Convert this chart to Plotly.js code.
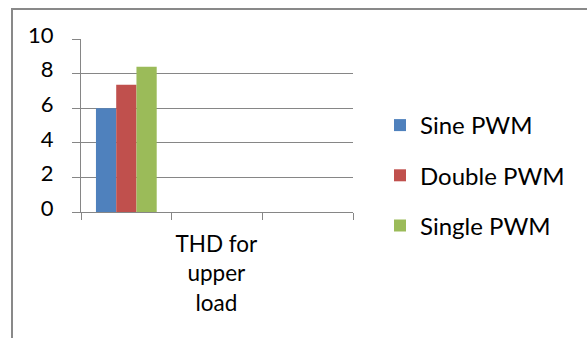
<!DOCTYPE html>
<html>
<head>
<meta charset="utf-8">
<script src="https://cdn.plot.ly/plotly-3.0.1.min.js"></script>
<style>
html,body{margin:0;padding:0;background:#fff;}
#chart{width:587px;height:338px;}
</style>
</head>
<body>
<div id="chart"></div>
<script>
var categories = ["THD for<br>upper<br>load", " ", "  "];
var seriesNames = ["Sine PWM", "Double PWM", "Single PWM"];
var sineValues = [6.0];
var doubleValues = [7.35];
var singleValues = [8.4];
var seriesColors = ["#4F81BD", "#C0504D", "#9BBB59"];
var yTickValues = [0, 2, 4, 6, 8, 10];

var seriesValues = [sineValues, doubleValues, singleValues];
var traces = seriesNames.map(function (name, i) {
  return {
    type: "bar",
    name: name,
    x: categories.slice(0, seriesValues[i].length),
    y: seriesValues[i],
    marker: {color: seriesColors[i]},
    legendgroup: "g" + i,
    hoverinfo: "none"
  };
});

var W = 587, H = 338;
var L = 81, R = 353, T = 39, B = 212;
function px(x) { return (x - L) / (R - L); }
function py(y) { return (B - y) / (B - T); }

var grey = "#868686";
var font = "Lato, 'Liberation Sans', sans-serif";

var layout = {
  width: W, height: H,
  margin: {l: L, r: W - R, t: T, b: H - B, pad: 0},
  paper_bgcolor: "#ffffff",
  plot_bgcolor: "#ffffff",
  showlegend: true,
  barmode: "group",
  bargap: 0.33,
  bargroupgap: 0,
  font: {family: font, color: "#000000"},
  xaxis: {
    type: "category",
    categoryorder: "array",
    categoryarray: categories,
    range: [-0.5, 2.5],
    tickson: "boundaries",
    ticks: "outside",
    ticklen: 7,
    tickwidth: 1,
    tickcolor: grey,
    tickangle: 0,
    showline: true,
    linecolor: grey,
    linewidth: 1,
    showgrid: false,
    zeroline: false,
    tickfont: {family: font, size: 22.5, color: "#000"},
    ticklabelstandoff: 12,
    ticklabelshift: 90,
    fixedrange: true
  },
  yaxis: {
    range: [0, 10],
    tickvals: yTickValues,
    ticktext: yTickValues.map(String),
    ticks: "outside",
    ticklen: 8,
    tickwidth: 1,
    tickcolor: grey,
    showline: true,
    linecolor: grey,
    linewidth: 1,
    showgrid: true,
    gridcolor: grey,
    gridwidth: 1,
    zeroline: false,
    tickfont: {family: font, size: 22, color: "#000"},
    ticklabelstandoff: 14,
    ticklabelshift: -4,
    fixedrange: true
  },
  legend: {
    xref: "container", yref: "container",
    x: 380 / W, y: 1 - 103 / H,
    xanchor: "left", yanchor: "top",
    traceorder: "grouped",
    tracegroupgap: 16,
    font: {family: font, size: 24, color: "#000"},
    bgcolor: "rgba(0,0,0,0)",
    borderwidth: 0,
    itemwidth: 30
  },
  shapes: [{
    type: "rect", xref: "paper", yref: "paper",
    x0: px(12), x1: px(640), y0: py(400), y1: py(9),
    line: {color: "#898989", width: 2},
    fillcolor: "rgba(0,0,0,0)",
    layer: "below"
  }]
};

Plotly.newPlot("chart", traces, layout, {displayModeBar: false, staticPlot: true});
</script>
</body>
</html>
